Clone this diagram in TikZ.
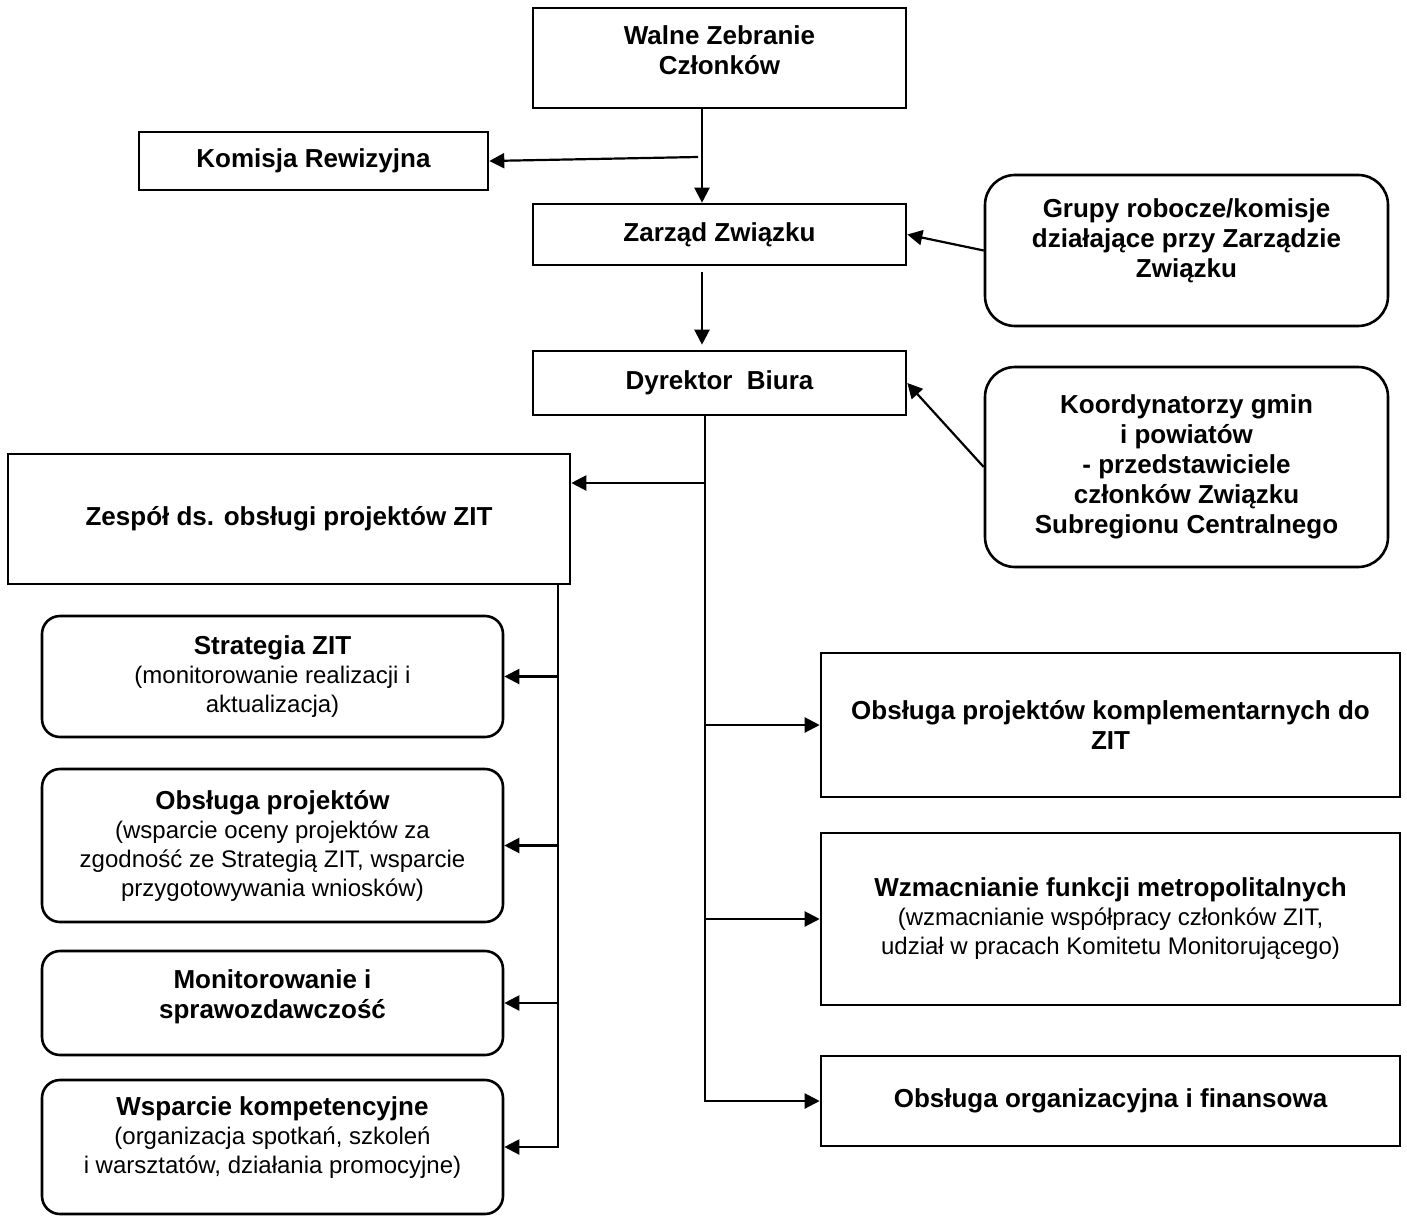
\documentclass[tikz,border=0pt]{standalone}
\usepackage{fontspec}
\setmainfont{Liberation Sans}
\usetikzlibrary{arrows.meta}
\newcommand\boxtitle[1]{{\fontsize{26}{30}\selectfont\bfseries #1}}

\begin{document}
\begin{tikzpicture}[x=1pt,y=-1pt,
box/.style={draw,line width=2.6pt,align=center,inner sep=4pt,font=\fontsize{26}{30}\selectfont\bfseries},
rbox/.style={box,rounded corners=18pt},
sub/.style={font=\fontsize{24}{29}\selectfont},
arr/.style={-{Triangle[length=15pt,width=15pt]},line width=2.2pt}]

\useasboundingbox[fill=white](0,0)rectangle(1407,1217);

% top of the structure
\node[box,text depth=16pt,minimum width=373pt,minimum height=100pt](walne)at(719.5,58){Walne Zebranie\\Członków};
\node[box,minimum width=349pt,minimum height=58pt](komisja)at(313.5,161){Komisja Rewizyjna};
\node[box,minimum width=373pt,minimum height=61pt](zarzad)at(719.5,234.5){Zarząd Związku};
\node[box,text depth=24pt,rounded corners=30pt,minimum width=403pt,minimum height=151pt](grupy)at(1186.5,250.5){Grupy robocze/komisje\\działające przy Zarządzie\\Związku};
\node[box,minimum width=373pt,minimum height=64pt](dyrektor)at(719.5,383){Dyrektor\ \ Biura};
\node[box,rounded corners=30pt,minimum width=403pt,minimum height=200pt](koord)at(1186.5,467){Koordynatorzy gmin\\i powiatów\\- przedstawiciele\\członków Związku\\Subregionu Centralnego};

% left column
\node[box,minimum width=562pt,minimum height=130pt](zespol)at(289,519){Zespół ds. obsługi projektów ZIT};
\node[rbox,sub,minimum width=461pt,minimum height=121pt](strat)at(272.5,676.5){\boxtitle{Strategia ZIT}\\(monitorowanie realizacji i\\aktualizacja)};
\node[rbox,sub,minimum width=461pt,minimum height=153pt](obsl)at(272.5,845.5){\boxtitle{Obsługa projektów}\\(wsparcie oceny projektów za\\zgodność ze Strategią ZIT, wsparcie\\przygotowywania wniosków)};
\node[rbox,text depth=17pt,minimum width=461pt,minimum height=104pt](monit)at(272.5,1003){Monitorowanie i\\sprawozdawczość};
\node[rbox,sub,text depth=23pt,minimum width=461pt,minimum height=134pt](wspar)at(272.5,1147){\boxtitle{Wsparcie kompetencyjne}\\(organizacja spotkań, szkoleń\\i warsztatów, działania promocyjne)};

% right column
\node[box,minimum width=579pt,minimum height=144pt](kompl)at(1110.5,725){Obsługa projektów komplementarnych do\\ZIT};
\node[box,sub,minimum width=579pt,minimum height=172pt](wzmac)at(1110.5,919){\boxtitle{Wzmacnianie funkcji metropolitalnych}\\(wzmacnianie współpracy członków ZIT,\\udział w pracach Komitetu Monitorującego)};
\node[box,minimum width=579pt,minimum height=90pt](organ)at(1110.5,1101){Obsługa organizacyjna i finansowa};

% connectors
\coordinate(kbr)at(698,157);
\draw[arr]([xshift=-17.5pt]walne.south)--([xshift=-17.5pt]zarzad.north);
\draw[arr](kbr)--(komisja.east);
\draw[arr,shorten <=6pt,shorten >=5pt]([xshift=-17.5pt]zarzad.south)--([xshift=-17.5pt]dyrektor.north);
\draw[arr](grupy.west)--(zarzad.east);
\draw[arr](koord.west)--(dyrektor.east);

\coordinate(dtop)at([xshift=-14.5pt]dyrektor.south);
\coordinate(zbr)at(705,483);
\draw[arr](dtop)|-(organ.west);
\draw[arr](zbr)--(zbr-|zespol.east);
\foreach \b in {kompl,wzmac}{\draw[arr](dtop|-\b.west)--(\b.west);}

\coordinate(ztop)at([xshift=-13pt]zespol.south east);
\draw[arr](ztop)|-(wspar.east);
\foreach \b in {strat,obsl,monit}{\draw[arr](ztop|-\b.east)--(\b.east);}
\end{tikzpicture}
\end{document}
